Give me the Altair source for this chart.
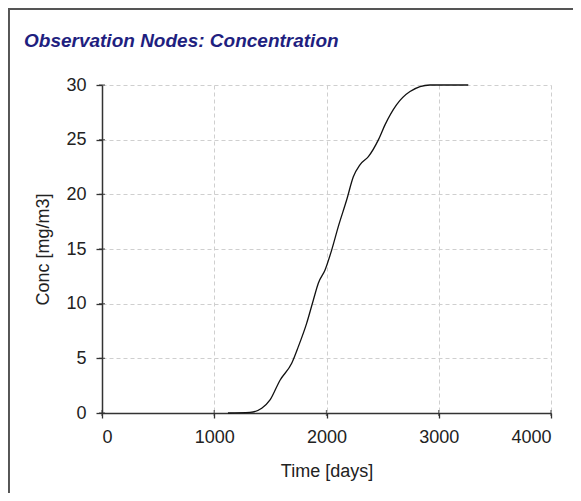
import altair as alt
import pandas as pd

# Data
time_days = [1122, 1318, 1423, 1497, 1586, 1690, 1749, 1823, 1883, 1927, 1987,
             2046, 2105, 2180, 2239, 2298, 2373, 2462, 2521, 2625, 2744, 2922, 3263]
conc = [0.0, 0.05, 0.43, 1.19, 3.0, 4.55, 6.07, 8.2, 10.34, 11.87, 13.08,
        14.9, 17.05, 19.5, 21.6, 22.7, 23.45, 24.98, 26.35, 28.2, 29.4, 30.0, 30.0]
x_ticks = [0, 1000, 2000, 3000, 4000]
y_ticks = [0, 5, 10, 15, 20, 25, 30]

FONT = "Liberation Sans"
W, H = 449, 328

df = pd.DataFrame({"t": time_days, "c": conc})
xt = pd.DataFrame({"t": x_ticks})
yt = pd.DataFrame({"c": y_ticks})

xscale = alt.Scale(domain=[0, 4000], nice=False, zero=False)
yscale = alt.Scale(domain=[0, 30], nice=False, zero=False)

line = alt.Chart(df).mark_line(color="#111111", strokeWidth=1.3, interpolate="monotone").encode(
    x=alt.X("t:Q", scale=xscale, title="Time [days]",
            axis=alt.Axis(values=x_ticks, format="d", titlePadding=16,
                          tickSize=5, labelPadding=10)),
    y=alt.Y("c:Q", scale=yscale, title="Conc [mg/m3]",
            axis=alt.Axis(values=y_ticks, format="d", titlePadding=13,
                          tickSize=6, labelPadding=10)),
)

# inward halves of the crossing tick marks
xtick_in = alt.Chart(xt).mark_tick(color="#333333", thickness=1.3, size=6, orient="vertical").encode(
    x=alt.X("t:Q", scale=xscale), y=alt.value(H)
)
ytick_in = alt.Chart(yt).mark_tick(color="#333333", thickness=1.3, size=6, orient="horizontal").encode(
    y=alt.Y("c:Q", scale=yscale), x=alt.value(0)
)

frame = alt.Chart(xt).mark_rect(fill=None, stroke="#555555", strokeWidth=2).encode(
    x=alt.value(-93.5), x2=alt.value(700), y=alt.value(-76), y2=alt.value(700)
)

chart = alt.layer(frame, line, xtick_in, ytick_in).properties(
    width=W, height=H,
    autosize=alt.AutoSizeParams(type="none"),
    padding={"left": 94, "top": 77, "right": 22, "bottom": 80},
    title=alt.Title("Observation Nodes: Concentration", anchor="start", frame="group",
                    dx=-78, offset=-58, baseline="alphabetic",
                    font=FONT, fontSize=19, fontWeight="bold", fontStyle="italic",
                    color="#1f1f80"),
).configure_view(stroke=None).configure_axis(
    labelFont=FONT, titleFont=FONT, labelFontSize=18, titleFontSize=18,
    labelColor="#222222", titleColor="#222222", titleFontWeight="normal",
    domainColor="#333333", domainWidth=1.5, tickColor="#333333", tickWidth=1.3,
    gridColor="#cfcfcf", gridDash=[4, 3], gridWidth=1,
)

chart.save("out.html", embed_options={"renderer": "svg", "actions": False})
